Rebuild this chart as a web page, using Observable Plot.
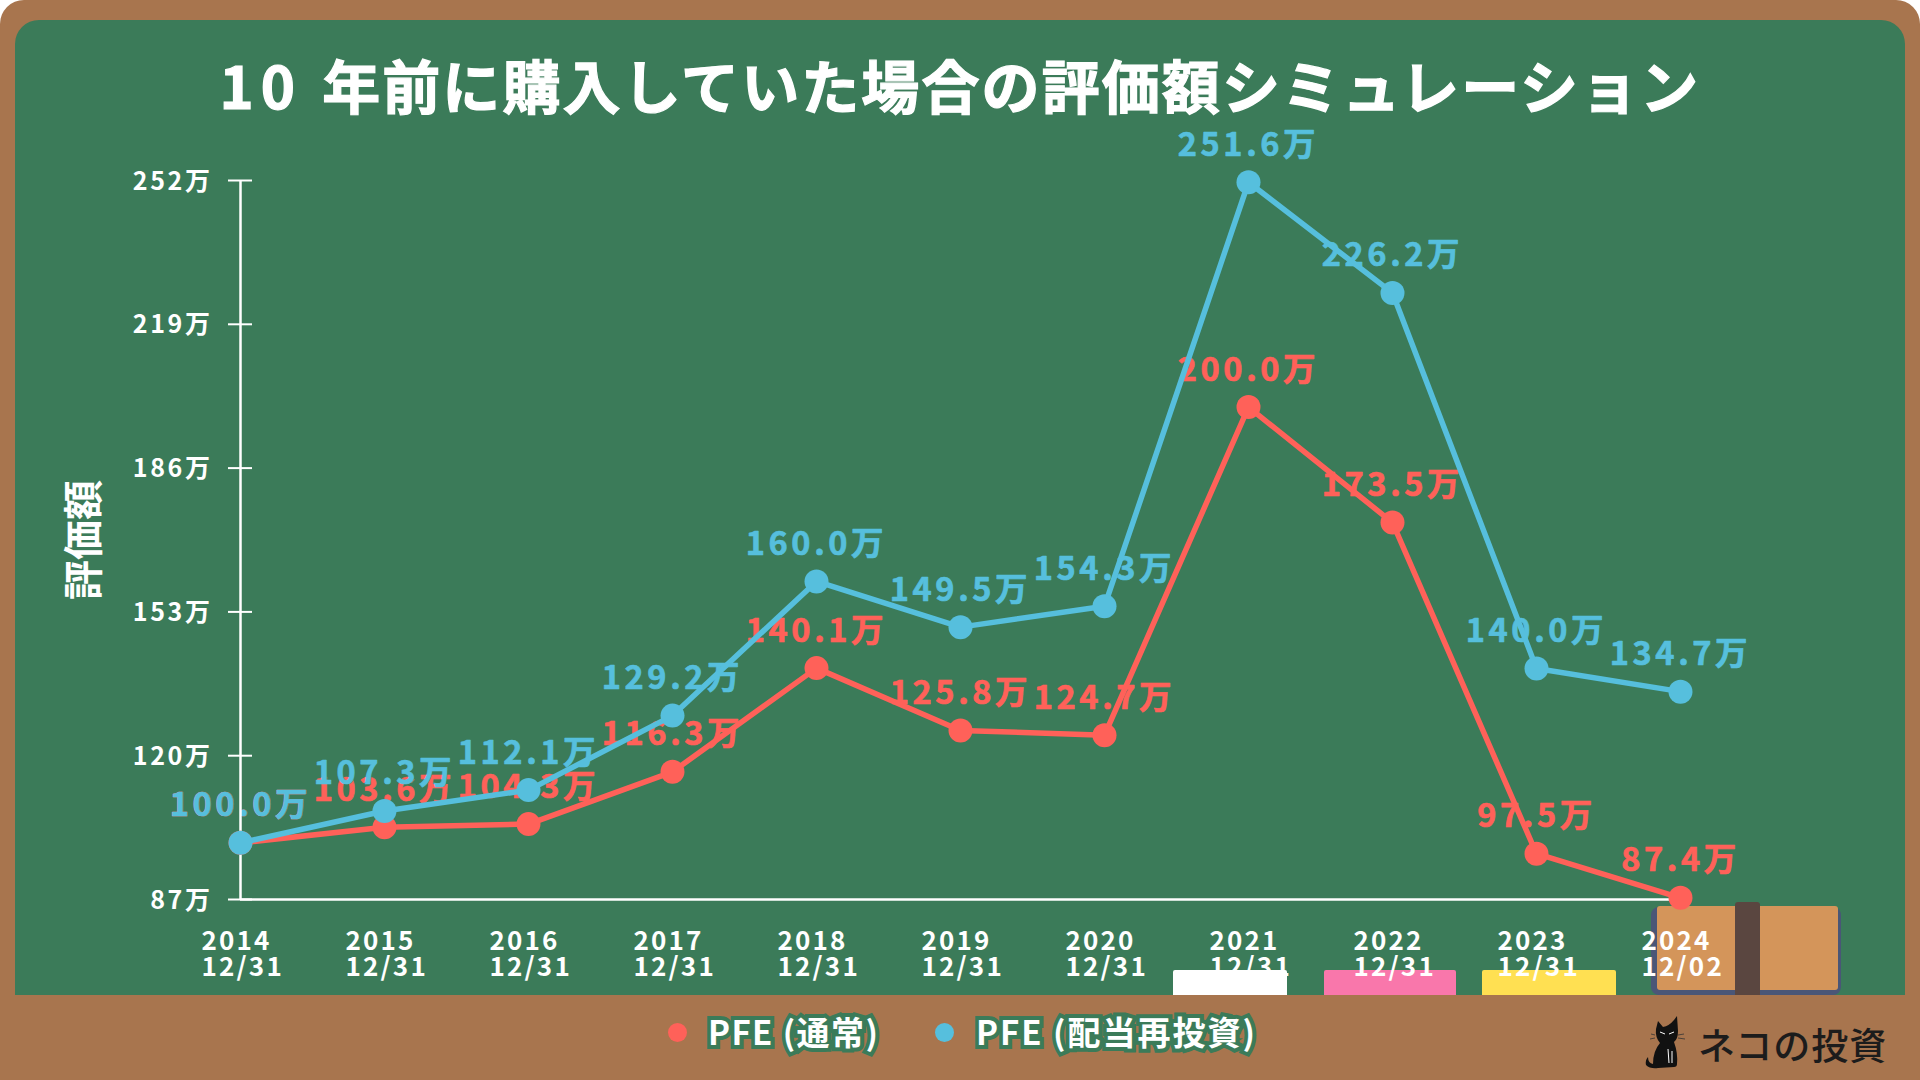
<!DOCTYPE html>
<html>
<head>
<meta charset="utf-8">
<script src="https://cdn.jsdelivr.net/npm/d3@7"></script>
<script src="https://cdn.jsdelivr.net/npm/@observablehq/plot@0.6"></script>
<style>
  html, body { margin: 0; background: #fff; }
  #page { position: relative; width: 1920px; height: 1080px; overflow: hidden; font-family: "Noto Sans CJK JP", sans-serif; }
  #page > * { position: absolute; }
  #frame { left: 0; top: 0; width: 1920px; height: 1080px; background: #a8754e; border-radius: 24px 24px 0 0; }
  #board { left: 15px; top: 20px; width: 1890px; height: 975px; background: #3b7b59; border-radius: 24px 24px 0 0; }
  .chalk { top: 970px; height: 25px; border-radius: 2px 2px 0 0; }
  #title { left: 0; width: 1920px; top: 44px; text-align: center; color: #fff; font-size: 58px; font-weight: 700; line-height: 80px; letter-spacing: 2.1px; -webkit-text-stroke: 1.2px #fff; white-space: pre; }
  #title span { letter-spacing: 7px; }
  .legend-dot { width: 19px; height: 19px; border-radius: 50%; top: 1023px; }
  .legend-text { top: 1008px; line-height: 46px; font-size: 33px; font-weight: 700; color: #fff; letter-spacing: 2px; -webkit-text-stroke: 8px #3b7b59; paint-order: stroke fill; white-space: pre; }
  #brand { left: 1698px; top: 1016px; font-size: 37px; line-height: 56px; color: #1c1c1c; font-weight: 500; letter-spacing: 1px; white-space: pre; }
  #chart { left: 0; top: 0; }
  .value-label { letter-spacing: 3.6px; }
  .x-label { letter-spacing: 2.2px; }
  .y-label { letter-spacing: 2.6px; }
</style>
</head>
<body>
<div id="page">
  <div id="frame"></div>
  <div id="board"></div>
  <div class="chalk" style="left:1173px;width:114px;background:#fff"></div>
  <div class="chalk" style="left:1324px;width:132px;background:#f977ab"></div>
  <div class="chalk" style="left:1482px;width:134px;background:#ffe052"></div>
  <div style="left:1651px;top:907px;width:190px;height:88px;background:#4a5677;border-radius:8px 8px 8px 8px"></div>
  <div style="left:1657px;top:906px;width:181px;height:84px;background:#d4955a;border-radius:3px"></div>
  <div style="left:1735px;top:902px;width:25px;height:93px;background:#5a4640;border-radius:3px 3px 0 0"></div>
  <div id="title"><span>10 </span>年前に購入していた場合の評価額シミュレーション</div>
  <div id="chart"></div>
  <div class="legend-dot" style="left:668px;background:#ff6159"></div>
  <div class="legend-text" style="left:708px;letter-spacing:1.4px">PFE (通常)</div>
  <div class="legend-dot" style="left:935px;background:#56bfdd"></div>
  <div class="legend-text" style="left:976px">PFE (配当再投資)</div>
  <svg style="left:1644px;top:1015px" width="50" height="56" viewBox="0 0 50 56">
    <path fill="#111" d="M14 6 L19 12 Q25 11 30 5 L33 1 L34 16 Q34 24 30 27 Q34 38 33 49 Q33 52 30 52 L14 53 Q6 54 2 50 Q1 45 4 42 Q4 48 9 49 Q9 36 16 28 Q11 22 12 14 Z"/>
    <path stroke="#fff" stroke-width="1" fill="none" d="M16 17 L21 19 M25 19 L30 17 M24 34 L25 48 M28 36 L28 48"/>
    <path stroke="#333" stroke-width="0.8" fill="none" d="M11 20 L7 19 M11 23 L6 24 M34 20 L40 19 M34 23 L41 24"/>
  </svg>
  <div id="brand">ネコの投資</div>
</div>
<script>
const periods = ["2014\n12/31", "2015\n12/31", "2016\n12/31", "2017\n12/31", "2018\n12/31", "2019\n12/31", "2020\n12/31", "2021\n12/31", "2022\n12/31", "2023\n12/31", "2024\n12/02"];
const normal = [100.0, 103.6, 104.3, 116.3, 140.1, 125.8, 124.7, 200.0, 173.5, 97.5, 87.4];
const reinvest = [100.0, 107.3, 112.1, 129.2, 160.0, 149.5, 154.3, 251.6, 226.2, 140.0, 134.7];
const yTicks = [87, 120, 153, 186, 219, 252];

const RED = "#ff6159";
const BLUE = "#56bfdd";

const redRows = periods.map((p, i) => ({period: p, value: normal[i]}));
const blueRows = periods.map((p, i) => ({period: p, value: reinvest[i]}));
const label = d => d.value.toFixed(1) + "万";

const chart = Plot.plot({
  width: 1920,
  height: 1080,
  marginTop: 180,
  marginBottom: 181,
  marginLeft: 240,
  marginRight: 240,
  style: {background: "transparent", fontFamily: "'Noto Sans CJK JP', sans-serif", overflow: "visible"},
  x: {type: "point", domain: periods, padding: 0},
  y: {domain: [87, 252]},
  marks: [
    // 数値ラベルは線と点の下に描く
    Plot.text(redRows, {x: "period", y: "value", text: label, fill: RED, stroke: RED, strokeWidth: 0.7, fontSize: 32.5, fontWeight: 700, dy: -37, className: "value-label"}),
    Plot.text(blueRows, {x: "period", y: "value", text: label, fill: BLUE, stroke: BLUE, strokeWidth: 0.7, fontSize: 32.5, fontWeight: 700, dy: -37, className: "value-label"}),
    Plot.ruleX([periods[0]], {stroke: "#fff", strokeWidth: 2.5}),
    Plot.ruleY([87], {stroke: "#fff", strokeWidth: 2.5}),
    Plot.axisY(yTicks, {tickSize: 24, dx: 12, stroke: "#fff", strokeWidth: 2, tickFormat: () => "", label: null}),
    Plot.axisY(yTicks, {tickSize: 0, tickPadding: 28, dy: 1, fill: "#fff", fontSize: 25, fontWeight: 700, tickFormat: d => d + "万", label: null, className: "y-label"}),
    Plot.axisY(yTicks, {tickSize: 0, tickFormat: () => "", label: "評価額", labelAnchor: "center", labelArrow: "none", labelOffset: 171, fill: "#fff", fontSize: 40, fontWeight: 700}),
    Plot.axisX({tickSize: 0, tickPadding: 32, textAnchor: "start", dx: -39, lineAnchor: "top", fill: "#fff", fontSize: 26, fontWeight: 700, lineHeight: 1, label: null, className: "x-label"}),
    Plot.line(redRows, {x: "period", y: "value", stroke: RED, strokeWidth: 5.5}),
    Plot.dot(redRows, {x: "period", y: "value", fill: RED, r: 12}),
    Plot.line(blueRows, {x: "period", y: "value", stroke: BLUE, strokeWidth: 5.5}),
    Plot.dot(blueRows, {x: "period", y: "value", fill: BLUE, r: 12})
  ]
});
document.getElementById("chart").append(chart);
</script>
</body>
</html>
